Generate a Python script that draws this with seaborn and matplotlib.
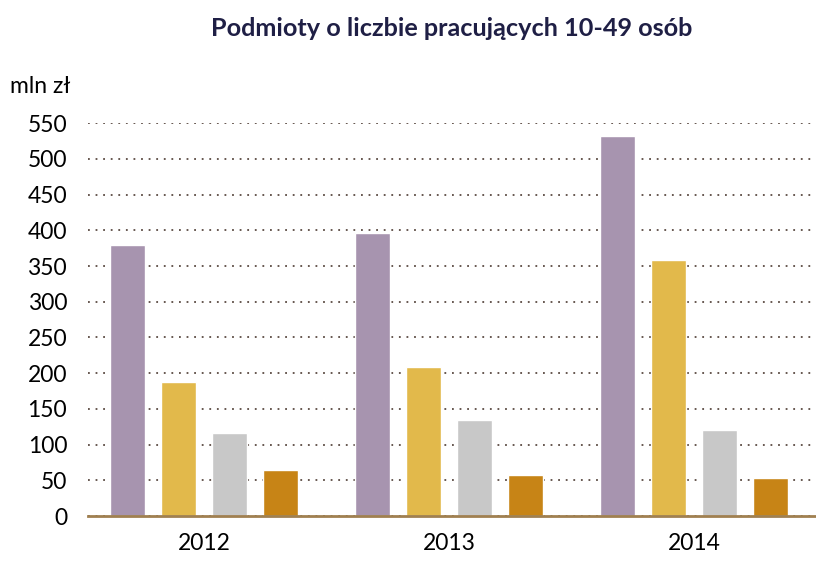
import pandas as pd
import seaborn as sns
import matplotlib.pyplot as plt

# data
years = ['2012', '2013', '2014']
series = ['s1', 's2', 's3', 's4']
s1 = [379, 396, 532]
s2 = [188, 209, 358]
s3 = [117, 134, 120]
s4 = [65, 57, 54]
colors = ['#A794AF', '#E2B94B', '#C8C8C8', '#C78416']

rows = []
for name, vals in zip(series, [s1, s2, s3, s4]):
    for y, v in zip(years, vals):
        rows.append({'year': y, 'series': name, 'value': v})
df = pd.DataFrame(rows)

sns.set_style('white')
plt.rcParams['font.family'] = ['Lato', 'DejaVu Sans']

fig = plt.figure(figsize=(8.16, 5.61), dpi=100)
ax = fig.add_axes([0.1078, 0.080, 0.892, 0.7005])

sns.barplot(data=df, x='year', y='value', hue='series', palette=colors,
            width=0.833, gap=0.314, saturation=1, legend=False, ax=ax)

ax.set_ylim(0, 550)
ax.set_yticks(range(0, 551, 50))
ax.set_xlim(-0.4755, 2.496)
ax.yaxis.grid(True, linestyle=(0, (1, 3.2)), color='#5a4a42', linewidth=1.3)
ax.set_axisbelow(True)
for s in ['top', 'right', 'left']:
    ax.spines[s].set_visible(False)
ax.spines['bottom'].set_color('#A08050')
ax.spines['bottom'].set_linewidth(2)
ax.tick_params(axis='both', length=0, labelsize=16.5, colors='black')
ax.tick_params(axis='y', pad=15)
ax.tick_params(axis='x', pad=12)
ax.set_xlabel('')
ax.set_ylabel('')

fig.text(0.012, 0.845, 'mln zł', fontsize=16.5, color='black', va='center')
fig.text(0.554, 0.95, 'Podmioty o liczbie pracujących 10-49 osób', fontsize=18.2,
         fontweight='bold', color='#1F1F45', ha='center', va='center')

fig.savefig('out.png', dpi=100)
